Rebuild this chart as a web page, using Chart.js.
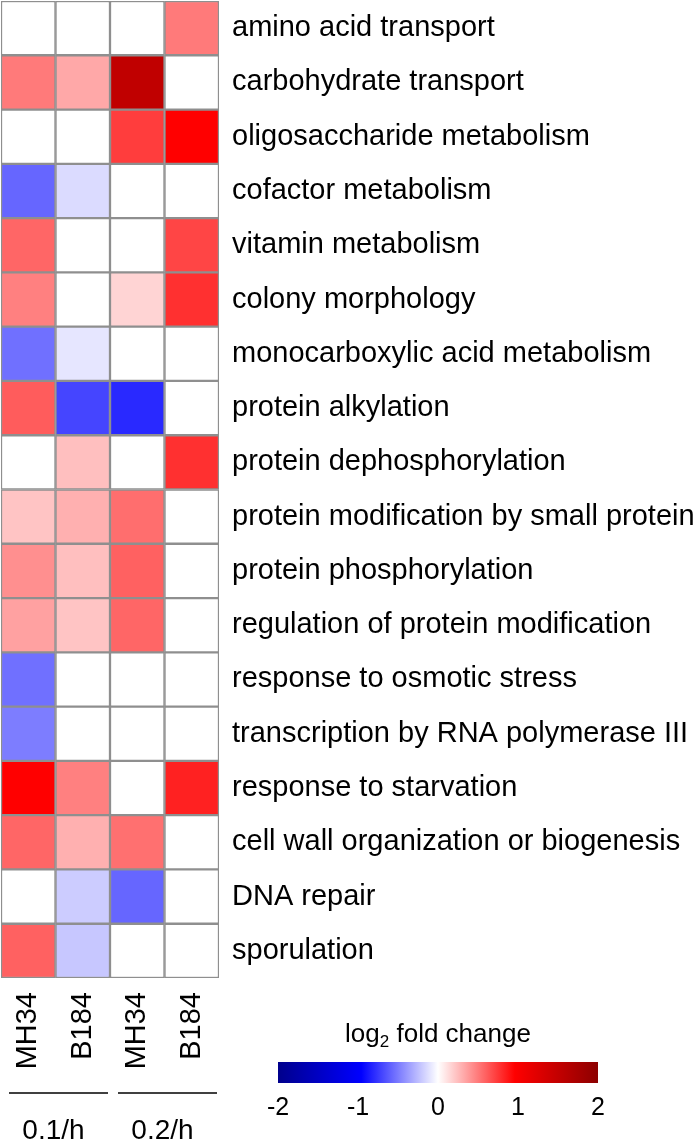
<!DOCTYPE html>
<html>
<head>
<meta charset="utf-8">
<script src="https://cdn.jsdelivr.net/npm/chart.js@4.4.0/dist/chart.umd.min.js"></script>
<style>
  body { margin: 0; background: #fff; }
  canvas { display: block; }
</style>
</head>
<body>
<canvas id="heatmap" width="700" height="1142"></canvas>
<script>
// GO terms (rows, top to bottom)
const terms = [
    'amino acid transport',
    'carbohydrate transport',
    'oligosaccharide metabolism',
    'cofactor metabolism',
    'vitamin metabolism',
    'colony morphology',
    'monocarboxylic acid metabolism',
    'protein alkylation',
    'protein dephosphorylation',
    'protein modification by small protein',
    'protein phosphorylation',
    'regulation of protein modification',
    'response to osmotic stress',
    'transcription by RNA polymerase III',
    'response to starvation',
    'cell wall organization or biogenesis',
    'DNA repair',
    'sporulation'
];
const columns = ['MH34', 'B184', 'MH34', 'B184'];
const groups = ['0.1/h', '0.2/h'];

// log2 fold change per column, null = not significant (white)
const mh34Slow = [null, 0.52, null, -0.6, 0.6, 0.5, -0.56, 0.64, null, 0.23, 0.44, 0.37, -0.56, -0.51, 1.0, 0.6, null, 0.62];
const b184Slow = [null, 0.34, null, -0.14, null, null, -0.1, -0.73, 0.25, 0.31, 0.25, 0.23, null, null, 0.5, 0.31, -0.2, -0.22];
const mh34Fast = [null, 1.54, 0.76, null, null, 0.17, null, -0.84, null, 0.57, 0.62, 0.6, null, null, null, 0.56, -0.6, null];
const b184Fast = [0.52, null, 1.0, null, 0.73, 0.81, null, null, 0.81, null, null, null, null, null, 0.87, null, null, null];

const legendTicks = [-2, -1, 0, 1, 2];

const columnValues = [mh34Slow, b184Slow, mh34Fast, b184Fast];
const FONT = '"Liberation Sans", Arial, sans-serif';

// blue - white - red scale, dark ends at +/-2
function colorFor(v) {
    if (v === null || v === 0) return '#ffffff';
    const a = Math.min(Math.abs(v), 2);
    let strong, weak;
    if (a <= 1) {
        strong = 255;
        weak = Math.round(255 * (1 - a));
    } else {
        strong = Math.round(255 - 116 * (a - 1));
        weak = 0;
    }
    return v > 0 ? `rgb(${strong},${weak},${weak})` : `rgb(${weak},${weak},${strong})`;
}

const datasets = columns.map((name, c) => ({
    label: name,
    data: terms.map(() => [c, c + 1]),
    backgroundColor: columnValues[c].map(colorFor),
    borderColor: '#8f8f8f',
    borderWidth: 1.5,
    borderSkipped: false,
    barPercentage: 1,
    categoryPercentage: 1,
    grouped: false
}));

// group lines, group labels and colour key
const extras = {
    id: 'extras',
    afterDraw(chart) {
        const ctx = chart.ctx;
        const x = chart.scales.x;
        ctx.save();
        ctx.fillStyle = '#000';
        ctx.strokeStyle = '#000';
        ctx.lineWidth = 1.5;
        ctx.font = '28px ' + FONT;
        ctx.textAlign = 'center';
        ctx.textBaseline = 'middle';
        groups.forEach((g, i) => {
            const x0 = x.getPixelForValue(i * 2);
            const x1 = x.getPixelForValue(i * 2 + 2);
            ctx.beginPath();
            ctx.moveTo(x0 + 8, 1093);
            ctx.lineTo(x1 - 2, 1093);
            ctx.stroke();
            ctx.fillText(g, (x0 + x1) / 2 - 2, 1131);
        });

        // colour key
        const bx0 = 278, bx1 = 598, by = 1062, bh = 21;
        const grad = ctx.createLinearGradient(bx0, 0, bx1, 0);
        grad.addColorStop(0, '#00008c');
        grad.addColorStop(0.26, '#0000ff');
        grad.addColorStop(0.5, '#ffffff');
        grad.addColorStop(0.74, '#ff0000');
        grad.addColorStop(1, '#8c0000');
        ctx.fillStyle = grad;
        ctx.fillRect(bx0, by, bx1 - bx0, bh);

        ctx.fillStyle = '#000';
        ctx.font = '25px ' + FONT;
        const lo = legendTicks[0], hi = legendTicks[legendTicks.length - 1];
        legendTicks.forEach(t => {
            const px = bx0 + (t - lo) / (hi - lo) * (bx1 - bx0);
            ctx.fillText(String(t), px, 1108);
        });

        // title with subscript
        const cx = 438, cy = 1035;
        ctx.textAlign = 'left';
        ctx.font = '26px ' + FONT;
        const w1 = ctx.measureText('log').width;
        const w3 = ctx.measureText(' fold change').width;
        ctx.font = '17px ' + FONT;
        const w2 = ctx.measureText('2').width;
        let sx = cx - (w1 + w2 + w3) / 2;
        ctx.font = '26px ' + FONT;
        ctx.fillText('log', sx, cy);
        ctx.font = '17px ' + FONT;
        ctx.fillText('2', sx + w1, cy + 7);
        ctx.font = '26px ' + FONT;
        ctx.fillText(' fold change', sx + w1 + w2, cy);
        ctx.restore();
    }
};

new Chart(document.getElementById('heatmap'), {
    type: 'bar',
    data: { labels: terms, datasets: datasets },
    options: {
        indexAxis: 'y',
        responsive: false,
        animation: false,
        layout: { padding: { top: 1, left: 1, right: 0, bottom: 1 } },
        plugins: { legend: { display: false }, tooltip: { enabled: false } },
        scales: {
            y: {
                position: 'right',
                grid: { display: false, drawTicks: false },
                border: { display: false },
                ticks: {
                    autoSkip: false,
                    padding: 13,
                    color: '#000',
                    font: { family: FONT, size: 29 }
                },
                afterFit: (scale) => {
                    scale.width = 481;
                    scale.paddingTop = 0;
                    scale.paddingBottom = 0;
                }
            },
            x: {
                type: 'linear',
                min: 0,
                max: 4,
                grid: { display: false, drawTicks: false },
                border: { display: false },
                afterBuildTicks: (scale) => {
                    scale.ticks = columns.map((c, i) => ({ value: i + 0.5 }));
                },
                ticks: {
                    autoSkip: false,
                    minRotation: 90,
                    maxRotation: 90,
                    padding: 14,
                    color: '#000',
                    font: { family: FONT, size: 29 },
                    callback: (value, index) => columns[index]
                },
                afterFit: (scale) => {
                    scale.height = 163;
                    scale.paddingLeft = 0;
                    scale.paddingRight = 0;
                }
            }
        }
    },
    plugins: [extras]
});
</script>
</body>
</html>
